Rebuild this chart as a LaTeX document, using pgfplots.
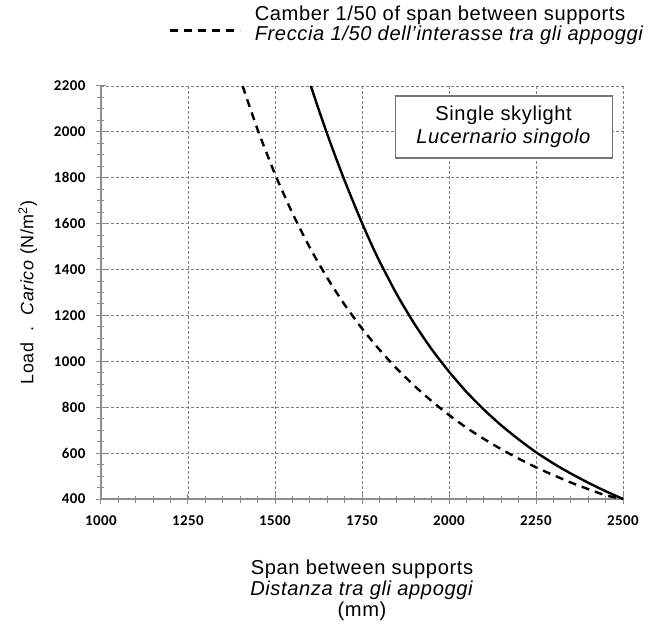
\documentclass[border=0pt]{standalone}
\usepackage{fontspec}
\setmainfont{Liberation Sans}[LetterSpace=3]
\newfontfamily\carlito{Carlito}[LetterSpace=3]
\usepackage{pgfplots}
\pgfplotsset{compat=1.18}
\pgfplotstableread{
x y
1603 2200
1625 2100
1650 1991
1675 1887
1700 1788
1725 1694
1750 1603
1775 1517
1800 1437
1850 1292
1900 1165
1950 1053
2000 955
2050 867
2100 790
2150 721
2200 660
2250 604
2300 555
2350 511
2400 471
2450 434
2500 400
}\solid
\pgfplotstableread{
x y
1407 2200
1450 2010
1500 1816
1550 1646
1600 1496
1650 1364
1700 1247
1750 1143
1800 1051
1850 968
1900 894
1950 827
2000 766
2050 711
2100 662
2150 617
2200 576
2250 538
2300 504
2350 472
2400 443
2450 416
2500 400
}\dashedtab
\begin{document}
\begin{tikzpicture}
\path[use as bounding box] (-101bp,-127bp) rectangle (547bp,499bp);
\begin{axis}[
  scale only axis, width=522bp, height=413bp,
  xmin=1000, xmax=2500, ymin=400, ymax=2200,
  xtick={1000,1250,...,2500}, ytick={400,600,...,2200},
  minor x tick num=4, minor y tick num=3,
  axis x line*=bottom, axis y line*=left,
  axis line style={draw=black!45, line width=1.3bp, -},
  tick align=center,
  major tick length=10bp, minor tick length=7bp,
  every tick/.style={black!45, line width=1bp},
  grid=major,
  major grid style={black!50, line width=0.8bp, dash pattern=on 3bp off 2bp},
  scaled ticks=false,
  /pgf/number format/.cd, 1000 sep={}, assume math mode=true,
  /pgfplots/.cd,
  ticklabel style={font=\carlito\bfseries\fontsize{15}{16}\selectfont},
  xticklabel style={yshift=-8bp},
  yticklabel style={xshift=-7bp},
  xlabel={\begin{tabular}{c}Span between supports\\[-2bp]\textit{Distanza tra gli appoggi}\\[-2bp](mm)\end{tabular}},
  xlabel style={font=\fontsize{20.2}{23}\selectfont, yshift=-26bp},
  ylabel={Load\ \ .\ \ \textit{Carico} (N/m\textsuperscript{2})},
  ylabel style={font=\fontsize{18}{21}\selectfont, yshift=10bp},
  legend style={draw=none, fill=none, at={(0.123,1.203)}, anchor=north west,
    cells={align=left}, font=\fontsize{20.2}{20}\selectfont},
  legend cell align=left,
  legend image code/.code={\draw[#1] (0bp,-6bp) -- (70bp,-6bp); \path (82bp,0bp);},
  clip=false,
]
\addplot[black, line width=2.4bp, smooth, tension=0.4, forget plot] table[x=x,y=y] {\solid};
\addplot[black, line width=2.4bp, dash pattern=on 8bp off 6bp, smooth, tension=0.4] table[x=x,y=y] {\dashedtab};
\addlegendentry{Camber 1/50 of span between supports\\\textit{Freccia 1/50 dell’interasse tra gli appoggi}}
\node[draw=black!55, line width=1.2bp, fill=white, minimum width=217bp, minimum height=62bp, align=center, inner sep=2bp, font=\fontsize{20.2}{23}\selectfont] at (axis cs:2157,2021) {Single skylight\\\textit{Lucernario singolo}};
\end{axis}
\end{tikzpicture}
\end{document}
